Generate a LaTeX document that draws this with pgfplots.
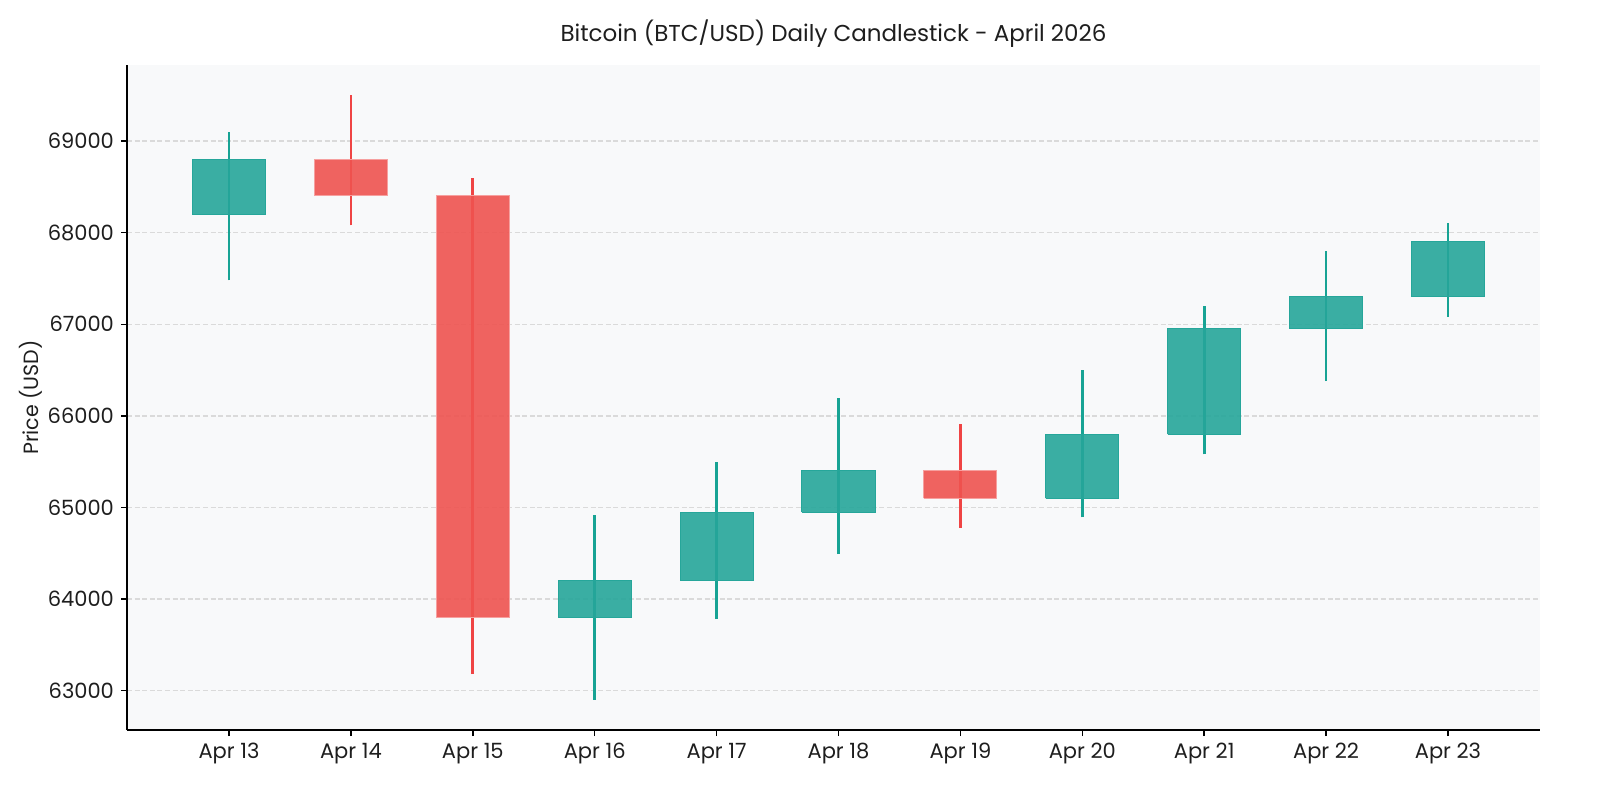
\documentclass[border=0pt]{standalone}
\usepackage{pgfplots}
\pgfplotsset{compat=1.18}
\usepackage{fontspec}
\setmainfont{Poppins}
\definecolor{upc}{HTML}{26A69A}
\definecolor{dnc}{HTML}{EF5350}
\definecolor{upw}{HTML}{17A394}
\definecolor{dnw}{HTML}{EF4444}
\definecolor{bgc}{HTML}{F8F9FA}
\definecolor{gridc}{HTML}{DADADA}
\definecolor{txt}{HTML}{1E1E1E}
\begin{document}
\begin{tikzpicture}
\begin{axis}[
  scale only axis, width=706.5pt, height=332.5pt,
  xmin=-0.837, xmax=10.755, ymin=62570, ymax=69830,
  axis background/.style={fill=bgc},
  axis lines*=left, axis line style={black, line width=0.7pt},
  tick style={black, line width=0.7pt}, tick align=outside, major tick length=3pt,
  xtick={0,...,10},
  xticklabels={Apr 13,Apr 14,Apr 15,Apr 16,Apr 17,Apr 18,Apr 19,Apr 20,Apr 21,Apr 22,Apr 23},
  ytick={63000,64000,...,69000},
  scaled y ticks=false,
  yticklabel={\pgfmathprintnumber[fixed,precision=0,1000 sep={}]{\tick}},
  /pgf/number format/1000 sep={},
  /pgf/number format/assume math mode=true,
  ticklabel style={font=\fontsize{10.5}{12}\selectfont, text=txt},
  ymajorgrids, grid style={gridc, line width=0.7pt, dash pattern=on 2.5pt off 1.3pt},
  ylabel={Price (USD)}, ylabel style={font=\fontsize{10.3}{12}\selectfont, text=txt},
  ylabel shift={-4.2pt},
  title={Bitcoin (BTC/USD) Daily Candlestick - April 2026},
  title style={font=\fontsize{11.5}{13}\selectfont, text=txt, yshift=-0.7pt},
  unbounded coords=jump,
]
% wicks (low to high)
\addplot[upw, line width=1.4pt, forget plot] coordinates {
 (0,67480) (0,69100) (0,nan)
 (3,62900) (3,64920) (3,nan)
 (4,63780) (4,65500) (4,nan)
 (5,64490) (5,66200) (5,nan)
 (7,64890) (7,66500) (7,nan)
 (8,65580) (8,67200) (8,nan)
 (9,66380) (9,67800) (9,nan)
 (10,67080) (10,68100)
};
\addplot[dnw, line width=1.4pt, forget plot] coordinates {
 (1,68080) (1,69500) (1,nan)
 (2,63180) (2,68600) (2,nan)
 (6,64780) (6,65910)
};
% bodies (open/close), 0.6 wide
\addplot[fill=upc, fill opacity=0.9, draw=upc, line width=0.5pt, line join=miter, forget plot] coordinates {
 (-0.3,68200) (0.3,68200) (0.3,68800) (-0.3,68800) (-0.3,68200) (0,nan)
 (2.7,63800) (3.3,63800) (3.3,64200) (2.7,64200) (2.7,63800) (3,nan)
 (3.7,64200) (4.3,64200) (4.3,64950) (3.7,64950) (3.7,64200) (4,nan)
 (4.7,64950) (5.3,64950) (5.3,65400) (4.7,65400) (4.7,64950) (5,nan)
 (6.7,65100) (7.3,65100) (7.3,65800) (6.7,65800) (6.7,65100) (7,nan)
 (7.7,65800) (8.3,65800) (8.3,66950) (7.7,66950) (7.7,65800) (8,nan)
 (8.7,66950) (9.3,66950) (9.3,67300) (8.7,67300) (8.7,66950) (9,nan)
 (9.7,67300) (10.3,67300) (10.3,67900) (9.7,67900) (9.7,67300)
};
\addplot[fill=dnc, fill opacity=0.9, draw=dnc!55!white, line width=0.5pt, line join=miter, forget plot] coordinates {
 (0.7,68400) (1.3,68400) (1.3,68800) (0.7,68800) (0.7,68400) (1,nan)
 (1.7,63800) (2.3,63800) (2.3,68400) (1.7,68400) (1.7,63800) (2,nan)
 (5.7,65100) (6.3,65100) (6.3,65400) (5.7,65400) (5.7,65100)
};
\end{axis}
\pgfresetboundingbox
\path[use as bounding box] ([xshift=-63.5pt,yshift=-35pt]current axis.south west) rectangle ([xshift=30pt,yshift=32.5pt]current axis.north east);
\end{tikzpicture}
\end{document}
